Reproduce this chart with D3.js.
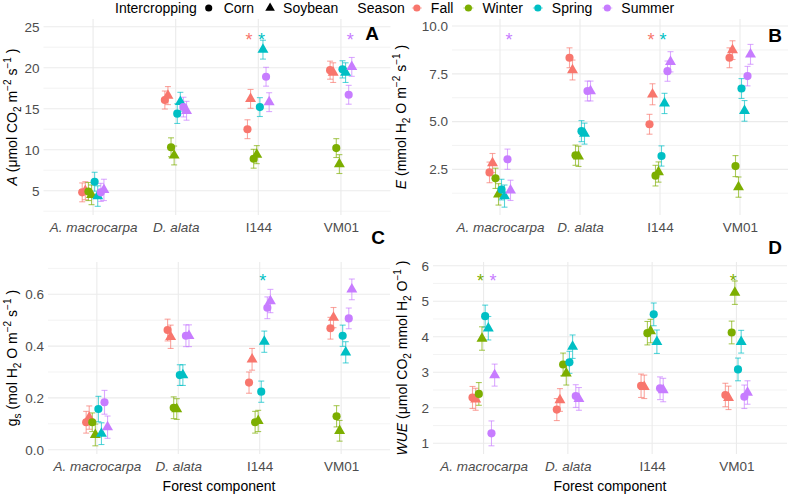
<!DOCTYPE html>
<html>
<head>
<meta charset="utf-8">
<script src="https://cdn.jsdelivr.net/npm/d3@7"></script>
<style>
  body { margin: 0; background: #fff; }
  svg { font-family: "Liberation Sans", Arial, sans-serif; }
</style>
</head>
<body>
<svg id="chart" width="789" height="495"></svg>
<script>
// categories
const sites = ["A. macrocarpa", "D. alata", "I144", "VM01"];
const seasons = ["Fall", "Winter", "Spring", "Summer"];
const crops = ["Corn", "Soybean"];
const seasonColors = ["#F8766D", "#7CAE00", "#00BFC4", "#C77CFF"];

// values: per site, per season, Corn then Soybean
// A - photosynthesis
const photoMean = [
  4.8, 5.0, 4.9, 4.5, 6.1, 4.35, 4.8, 5.1,
  16.06, 16.6, 10.3, 9.3, 14.4, 15.85, 15.2, 14.75,
  12.5, 16.2, 8.9, 9.4, 15.2, 22.2, 18.9, 15.8,
  19.7, 19.4, 10.2, 8.25, 19.8, 19.4, 16.7, 20.1
];
const photoSE = [
  1.15, 1.1, 1.1, 1.2, 1.15, 1.25, 1.1, 1.3,
  1.1, 1.1, 1.15, 1.15, 1.2, 1.15, 1.2, 1.15,
  1.15, 1.15, 1.15, 1.1, 1.15, 1.15, 1.15, 1.15,
  1.1, 1.2, 1.15, 1.15, 1.05, 1.2, 1.15, 1.15
];
// E - transpiration
const transMean = [
  2.34, 2.83, 2.03, 1.19, 1.44, 1.1, 3.03, 1.4,
  8.34, 7.7, 3.24, 3.18, 4.5, 4.37, 6.6, 6.6,
  4.86, 6.43, 2.17, 2.36, 3.2, 5.95, 7.64, 8.13,
  8.34, 8.74, 2.67, 1.57, 6.73, 5.56, 7.38, 8.52
];
const transSE = [
  0.54, 0.5, 0.53, 0.56, 0.54, 0.58, 0.53, 0.53,
  0.52, 0.52, 0.53, 0.53, 0.55, 0.55, 0.52, 0.52,
  0.52, 0.55, 0.54, 0.53, 0.53, 0.53, 0.53, 0.53,
  0.52, 0.49, 0.55, 0.53, 0.52, 0.54, 0.51, 0.52
];
// gs - stomatal conductance
const condMean = [
  0.106, 0.124, 0.106, 0.057, 0.157, 0.062, 0.183, 0.087,
  0.462, 0.436, 0.162, 0.157, 0.288, 0.288, 0.44, 0.44,
  0.259, 0.349, 0.106, 0.111, 0.224, 0.417, 0.548, 0.574,
  0.469, 0.51, 0.129, 0.073, 0.44, 0.376, 0.507, 0.619
];
const condSE = [
  0.042, 0.045, 0.036, 0.042, 0.049, 0.042, 0.046, 0.043,
  0.042, 0.045, 0.042, 0.04, 0.04, 0.04, 0.042, 0.042,
  0.041, 0.042, 0.042, 0.041, 0.041, 0.041, 0.042, 0.045,
  0.042, 0.039, 0.041, 0.04, 0.041, 0.041, 0.04, 0.04
];
// WUE - water use efficiency
const wueMean = [
  2.29, 2.24, 2.39, 3.95, 4.58, 4.24, 1.28, 2.92,
  1.95, 2.22, 3.22, 2.97, 3.28, 3.72, 2.33, 2.25,
  2.62, 2.59, 4.1, 4.16, 4.63, 3.86, 2.55, 2.5,
  2.36, 2.28, 4.12, 5.24, 3.08, 3.86, 2.31, 2.43
];
const wueSE = [
  0.31, 0.31, 0.32, 0.33, 0.31, 0.33, 0.35, 0.31,
  0.31, 0.32, 0.32, 0.33, 0.31, 0.33, 0.32, 0.32,
  0.33, 0.33, 0.33, 0.33, 0.32, 0.33, 0.32, 0.33,
  0.33, 0.33, 0.32, 0.33, 0.32, 0.32, 0.33, 0.33
];

// significance stars: [site, season]
const photoStars = [["I144", "Fall"], ["I144", "Spring"], ["VM01", "Summer"]];
const transStars = [["A. macrocarpa", "Summer"], ["I144", "Fall"], ["I144", "Spring"]];
const condStars = [["I144", "Spring"]];
const wueStars = [["A. macrocarpa", "Winter"], ["A. macrocarpa", "Summer"], ["VM01", "Winter"]];
const starLevels = [23.9, 9.48, 0.668, 5.69];

// tick labels
const photoTicks = [5, 10, 15, 20, 25];
const transTicks = [2.5, 5.0, 7.5, 10.0];
const condTicks = [0.0, 0.2, 0.4, 0.6];
const wueTicks = [1, 2, 3, 4, 5, 6];

const svg = d3.select("#chart");
const greyText = "#4D4D4D";

function rows(mean, se) {
  const out = [];
  sites.forEach((site, si) => seasons.forEach((season, ki) => crops.forEach((crop, ci) => {
    const i = si * 8 + ki * 2 + ci;
    out.push({site, season, crop, group: ki * 2 + ci, k: ki, mean: mean[i], se: se[i]});
  })));
  return out;
}

const panels = [
  {tag: "A", data: rows(photoMean, photoSE), ticks: photoTicks, fmt: d3.format("d"),
   domain: [2.04, 25.94], box: {l: 43.5, r: 390.5, t: 19, b: 215}, stars: photoStars, starY: starLevels[0],
   tagPos: [372, 33], titleX: 17,
   title: [["A", "i"], [" (μmol CO", ""], ["2", "sub"], [" m", ""], ["−2", "sup"], [" s", ""], ["−1", "sup"], [" )", ""]]},
  {tag: "B", data: rows(transMean, transSE), ticks: transTicks, fmt: d3.format(".1f"),
   domain: [0.11, 10.37], box: {l: 452, r: 788, t: 19, b: 215}, stars: transStars, starY: starLevels[1],
   tagPos: [775, 35], titleX: 406,
   title: [["E", "i"], [" (mmol H", ""], ["2", "sub"], [" O m", ""], ["−2", "sup"], [" s", ""], ["−1", "sup"], [" )", ""]]},
  {tag: "C", data: rows(condMean, condSE), ticks: condTicks, fmt: d3.format(".1f"),
   domain: [-0.0166, 0.7247], box: {l: 48, r: 390, t: 262, b: 454}, stars: condStars, starY: starLevels[2],
   tagPos: [378, 237], titleX: 17, xTitle: true,
   title: [["g", ""], ["s", "sub"], [" (mol H", ""], ["2", "sub"], [" O m", ""], ["−2", "sup"], [" s", ""], ["−1", "sup"], [" )", ""]]},
  {tag: "D", data: rows(wueMean, wueSE), ticks: wueTicks, fmt: d3.format("d"),
   domain: [0.699, 6.104], box: {l: 433, r: 787, t: 262, b: 454}, stars: wueStars, starY: starLevels[3],
   tagPos: [775, 247], titleX: 407, xTitle: true,
   title: [["WUE", "i"], [" (μmol CO", ""], ["2", "sub"], [" mmol H", ""], ["2", "sub"], [" O", ""], ["−1", "sup"], [" )", ""]]}
];

function richText(sel, parts, size) {
  parts.forEach(([t, st], i) => {
    const prev = i > 0 ? parts[i - 1][1] : "";
    let dy = 0;
    if (prev === "sub") dy -= 0.3 * size;
    if (prev === "sup") dy += 0.45 * size;
    if (st === "sub") dy += 0.3 * size;
    if (st === "sup") dy -= 0.45 * size;
    sel.append("tspan")
      .attr("dy", dy)
      .attr("font-size", st === "sub" || st === "sup" ? size * 0.72 : size)
      .attr("font-style", st === "i" ? "italic" : "normal")
      .text(t);
  });
}

panels.forEach(p => {
  const b = p.box;
  const g = svg.append("g");
  const x = d3.scalePoint().domain(sites).range([b.l, b.r]).padding(0.6);
  const y = d3.scaleLinear().domain(p.domain).range([b.b, b.t]);
  const step = x.step();
  const dodge = step * 0.3 / 8;
  const xp = d => x(d.site) + (d.group - 3.5) * dodge;

  // minor grid
  const tstep = p.ticks[1] - p.ticks[0];
  const minor = d3.range(p.ticks[0] - tstep / 2, p.domain[1], tstep).filter(v => v > p.domain[0]);
  g.selectAll(".minor").data(minor).join("line")
    .attr("x1", b.l).attr("x2", b.r).attr("y1", d => y(d)).attr("y2", d => y(d))
    .attr("stroke", "#EBEBEB").attr("stroke-width", 0.6);
  g.selectAll(".major").data(p.ticks).join("line")
    .attr("x1", b.l).attr("x2", b.r).attr("y1", d => y(d)).attr("y2", d => y(d))
    .attr("stroke", "#EBEBEB").attr("stroke-width", 1.1);
  g.selectAll(".vgrid").data(sites).join("line")
    .attr("x1", d => x(d)).attr("x2", d => x(d)).attr("y1", b.t).attr("y2", b.b)
    .attr("stroke", "#EBEBEB").attr("stroke-width", 1.1);

  // y axis
  const ya = g.append("g").attr("transform", `translate(${b.l - 4},0)`)
    .call(d3.axisLeft(y).tickValues(p.ticks).tickFormat(p.fmt).tickSize(0).tickPadding(0));
  ya.select(".domain").remove();
  ya.selectAll("text").attr("fill", greyText).attr("font-size", 13.5)
    .attr("font-family", "Liberation Sans, Arial, sans-serif");

  // x axis
  const xa = g.append("g").attr("transform", `translate(0,${b.b + 7})`)
    .call(d3.axisBottom(x).tickSize(0).tickPadding(0));
  xa.select(".domain").remove();
  xa.selectAll("text").attr("fill", greyText).attr("font-size", 13.5)
    .attr("font-family", "Liberation Sans, Arial, sans-serif")
    .attr("dy", "0.71em")
    .attr("font-style", d => d.includes(".") ? "italic" : "normal");

  // error bars
  const eb = g.append("g").attr("stroke-opacity", 0.65).attr("stroke-width", 1.1);
  p.data.forEach(d => {
    const c = seasonColors[d.k];
    const cx = xp(d);
    eb.append("line").attr("x1", cx).attr("x2", cx).attr("y1", y(d.mean - d.se)).attr("y2", y(d.mean + d.se)).attr("stroke", c);
    eb.append("line").attr("x1", cx - 3).attr("x2", cx + 3).attr("y1", y(d.mean - d.se)).attr("y2", y(d.mean - d.se)).attr("stroke", c);
    eb.append("line").attr("x1", cx - 3).attr("x2", cx + 3).attr("y1", y(d.mean + d.se)).attr("y2", y(d.mean + d.se)).attr("stroke", c);
  });

  // points
  const tri = d3.symbol(d3.symbolTriangle, 52);
  g.selectAll(".pt").data(p.data).join("path")
    .attr("transform", d => `translate(${xp(d)},${y(d.mean)})`)
    .attr("d", d => d.crop === "Corn" ? d3.symbol(d3.symbolCircle, 52)() : tri())
    .attr("fill", d => seasonColors[d.k]);

  // stars
  g.selectAll(".star").data(p.stars).join("text")
    .attr("x", d => x(d[0]) + (seasons.indexOf(d[1]) * 2 - 3) * dodge)
    .attr("y", y(p.starY) + 10)
    .attr("text-anchor", "middle")
    .attr("font-size", 18)
    .attr("fill", d => seasonColors[seasons.indexOf(d[1])])
    .text("*");

  // y title
  const yt = svg.append("text")
    .attr("transform", `translate(${p.titleX},${(b.t + b.b) / 2}) rotate(-90)`)
    .attr("text-anchor", "middle").attr("dy", "0.35em").attr("fill", "#000");
  richText(yt, p.title, 14);

  if (p.xTitle) {
    svg.append("text").attr("x", (b.l + b.r) / 2).attr("y", 491)
      .attr("text-anchor", "middle").attr("font-size", 14).text("Forest component");
  }

  svg.append("text").attr("x", p.tagPos[0]).attr("y", p.tagPos[1]).attr("dy", "0.36em")
    .attr("text-anchor", "middle").attr("font-size", 19).attr("font-weight", "bold").text(p.tag);
});

// legend
const lg = svg.append("g").attr("font-size", 14);
let cx = 115;
const ly = 8;
function word(t, gap) {
  const el = lg.append("text").attr("x", cx).attr("y", ly).attr("dy", "0.36em").text(t);
  cx += el.node().getComputedTextLength() + gap;
}
word("Intercropping", 12);
lg.append("path").attr("transform", `translate(${cx},${ly})`).attr("d", d3.symbol(d3.symbolCircle, 40)());
cx += 15;
word("Corn", 16);
lg.append("path").attr("transform", `translate(${cx},${ly})`).attr("d", d3.symbol(d3.symbolTriangle, 40)());
cx += 13;
word("Soybean", 19);
word("Season", 12);
seasons.forEach((s, i) => {
  lg.append("line").attr("x1", cx - 5).attr("x2", cx + 5).attr("y1", ly).attr("y2", ly)
    .attr("stroke", seasonColors[i]).attr("stroke-opacity", 0.6).attr("stroke-width", 1);
  lg.append("path").attr("transform", `translate(${cx},${ly})`).attr("d", d3.symbol(d3.symbolCircle, 40)())
    .attr("fill", seasonColors[i]);
  cx += 14;
  word(s, 15);
});
</script>
</body>
</html>
